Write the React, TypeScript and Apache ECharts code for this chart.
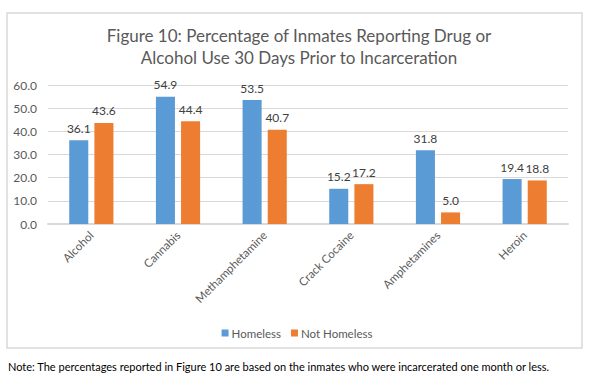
import React, { useEffect, useRef } from "react";
import * as echarts from "echarts";

const categories = ["Alcohol", "Cannabis", "Methamphetamine", "Crack Cocaine", "Amphetamines", "Heroin"];
const homeless = [36.1, 54.9, 53.5, 15.2, 31.8, 19.4];
const notHomeless = [43.6, 44.4, 40.7, 17.2, 5.0, 18.8];
const seriesNames = ["Homeless", "Not Homeless"];
const titleText = "Figure 10: Percentage of Inmates Reporting Drug or\nAlcohol Use 30 Days Prior to Incarceration";
const noteText = "Note: The percentages reported in Figure 10 are based on the inmates who were incarcerated one month or less.";

const FONT = "Lato, 'Noto Sans', sans-serif";

export default function App() {
  const ref = useRef<HTMLDivElement>(null);
  useEffect(() => {
    const chart = echarts.init(ref.current!, null, { renderer: "svg" });
    chart.setOption({
      animation: false,
      textStyle: { fontFamily: FONT },
      title: {
        text: titleText,
        left: 294,
        textAlign: "center",
        top: 19,
        textStyle: { fontFamily: FONT, fontSize: 17, fontWeight: "normal", color: "#595959", lineHeight: 22 },
      },
      legend: {
        data: seriesNames,
        left: "center",
        top: 322,
        itemWidth: 7,
        itemHeight: 7,
        itemGap: 10,
        icon: "rect",
        textStyle: { fontFamily: FONT, fontSize: 11.5, color: "#595959", padding: [0, 0, 0, -2] },
      },
      grid: { left: 48, right: 26, top: 85, bottom: 160, containLabel: false },
      xAxis: {
        type: "category",
        data: categories,
        axisLine: { lineStyle: { color: "#d9d9d9", width: 2 } },
        axisTick: { show: false },
        axisLabel: { rotate: 45, fontSize: 11.5, color: "#595959", fontFamily: FONT, margin: 9, interval: 0 },
      },
      yAxis: {
        type: "value",
        min: 0,
        max: 60,
        interval: 10,
        axisLabel: {
          formatter: (v: number) => v.toFixed(1),
          fontSize: 12,
          color: "#595959",
          fontFamily: FONT,
          margin: 11,
        },
        axisLine: { show: false },
        splitLine: { lineStyle: { color: "#d9d9d9", width: 1 } },
      },
      series: [
        {
          name: seriesNames[0],
          type: "bar",
          data: homeless,
          itemStyle: { color: "#5B9BD5" },
          barGap: "32%",
          barCategoryGap: "49%",
          label: { show: true, position: "top", distance: 6, fontSize: 12, color: "#404040", fontFamily: FONT, formatter: (p: any) => p.value.toFixed(1) },
        },
        {
          name: seriesNames[1],
          type: "bar",
          data: notHomeless,
          itemStyle: { color: "#ED7D31" },
          barGap: "32%",
          barCategoryGap: "49%",
          label: { show: true, position: "top", distance: 6, fontSize: 12, color: "#404040", fontFamily: FONT, formatter: (p: any) => p.value.toFixed(1) },
        },
      ],
      graphic: [
        {
          type: "rect",
          z: -1,
          shape: { x: 7, y: 13, width: 575, height: 335 },
          style: { fill: "none", stroke: "#d9d9d9", lineWidth: 1.5 },
          silent: true,
        },
        {
          type: "text",
          left: 8,
          top: 361,
          style: { text: noteText, fontSize: 11, fill: "#000000", fontFamily: FONT },
        },
      ],
    });
    return () => chart.dispose();
  }, []);
  return <div ref={ref} style={{ position: "fixed", left: 0, top: 0, width: 594, height: 384, background: "#fff" }} />;
}
